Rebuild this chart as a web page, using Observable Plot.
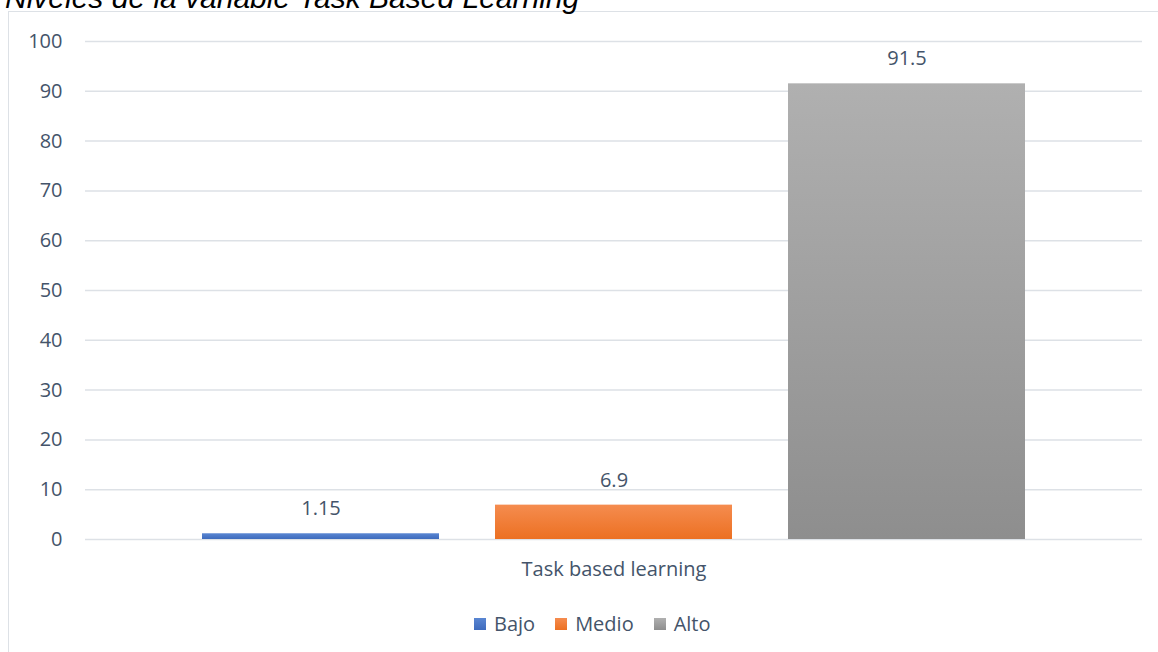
<!DOCTYPE html>
<html>
<head>
<meta charset="utf-8">
<script src="https://cdn.jsdelivr.net/npm/d3@7"></script>
<script src="https://cdn.jsdelivr.net/npm/@observablehq/plot@0.6"></script>
<style>
  html, body { margin: 0; padding: 0; background: #fff; }
  #wrap { position: relative; width: 1158px; height: 652px; overflow: hidden; background: #fff; }
  #frame { position: absolute; left: 8px; top: 11px; width: 1200px; height: 700px; border: 1.5px solid #dde1e6; box-sizing: border-box; }
  #title { position: absolute; left: 5px; top: -17px; font: italic 30px "Liberation Sans", Arial, sans-serif; line-height: 30px; color: #000; white-space: nowrap; }
  #chart { position: absolute; left: 0; top: 0; }
  #legend { position: absolute; left: 474px; top: 610px; display: flex; align-items: center; gap: 20px; font: 20px "Open Sans", sans-serif; color: #44546a; }
  .item { display: flex; align-items: center; }
  .sw { width: 12px; height: 12px; margin-right: 8px; }
</style>
</head>
<body>
<div id="wrap">
  <div id="frame"></div>
  <div id="title">Niveles de la variable Task Based Learning</div>
  <div id="chart"></div>
  <div id="legend"></div>
</div>
<script>
// ---- data ----
const categories = ["Task based learning"];
const series = ["Bajo", "Medio", "Alto"];
const values = [1.15, 6.9, 91.5];
const valueLabels = ["1.15", "6.9", "91.5"];
const yTicks = [0, 10, 20, 30, 40, 50, 60, 70, 80, 90, 100];

// ---- styles ----
const gradTop = ["#5a86d2", "#f58c4f", "#b0b0b0"];
const gradBottom = ["#3e6bbd", "#ec7022", "#8e8e8e"];
const textColor = "#44546a";

const data = series.map((s, i) => ({
  category: categories[0],
  series: s,
  value: values[i],
  label: valueLabels[i],
  fill: `url(#grad${i})`
}));

const chart = Plot.plot({
  width: 1158,
  height: 600,
  marginLeft: 85,
  marginRight: 16,
  marginTop: 41,
  marginBottom: 61,
  style: { fontFamily: "'Open Sans', sans-serif", fontSize: "20px", color: textColor, background: "transparent" },
  fx: { domain: categories, padding: 0, label: null },
  x: { domain: series, paddingInner: 0.191, paddingOuter: 0.399, axis: null },
  y: { domain: [0, 100], label: null },
  color: { type: "identity" },
  marks: [
    Plot.gridY(yTicks, { stroke: "#dde1e6", strokeOpacity: 1, strokeWidth: 1.5 }),
    Plot.axisY({ ticks: yTicks, tickSize: 0, tickPadding: 23, label: null, fill: textColor }),
    Plot.axisFx({ anchor: "bottom", tickSize: 0, tickPadding: 22, label: null, fill: textColor }),
    Plot.barY(data, { fx: "category", x: "series", y: "value", fill: "fill" }),
    Plot.text(data, { fx: "category", x: "series", y: "value", text: "label", dy: -25, lineAnchor: "middle", fill: textColor })
  ]
});

// gradients
const svg = d3.select(chart);
const defs = svg.insert("defs", ":first-child");
series.forEach((s, i) => {
  const g = defs.append("linearGradient").attr("id", `grad${i}`).attr("x1", 0).attr("y1", 0).attr("x2", 0).attr("y2", 1);
  g.append("stop").attr("offset", "0%").attr("stop-color", gradTop[i]);
  g.append("stop").attr("offset", "100%").attr("stop-color", gradBottom[i]);
});

document.getElementById("chart").appendChild(chart);

// legend
const legend = d3.select("#legend");
series.forEach((s, i) => {
  const item = legend.append("div").attr("class", "item");
  item.append("div").attr("class", "sw").style("background", `linear-gradient(${gradTop[i]}, ${gradBottom[i]})`);
  item.append("span").text(s);
});
</script>
</body>
</html>
